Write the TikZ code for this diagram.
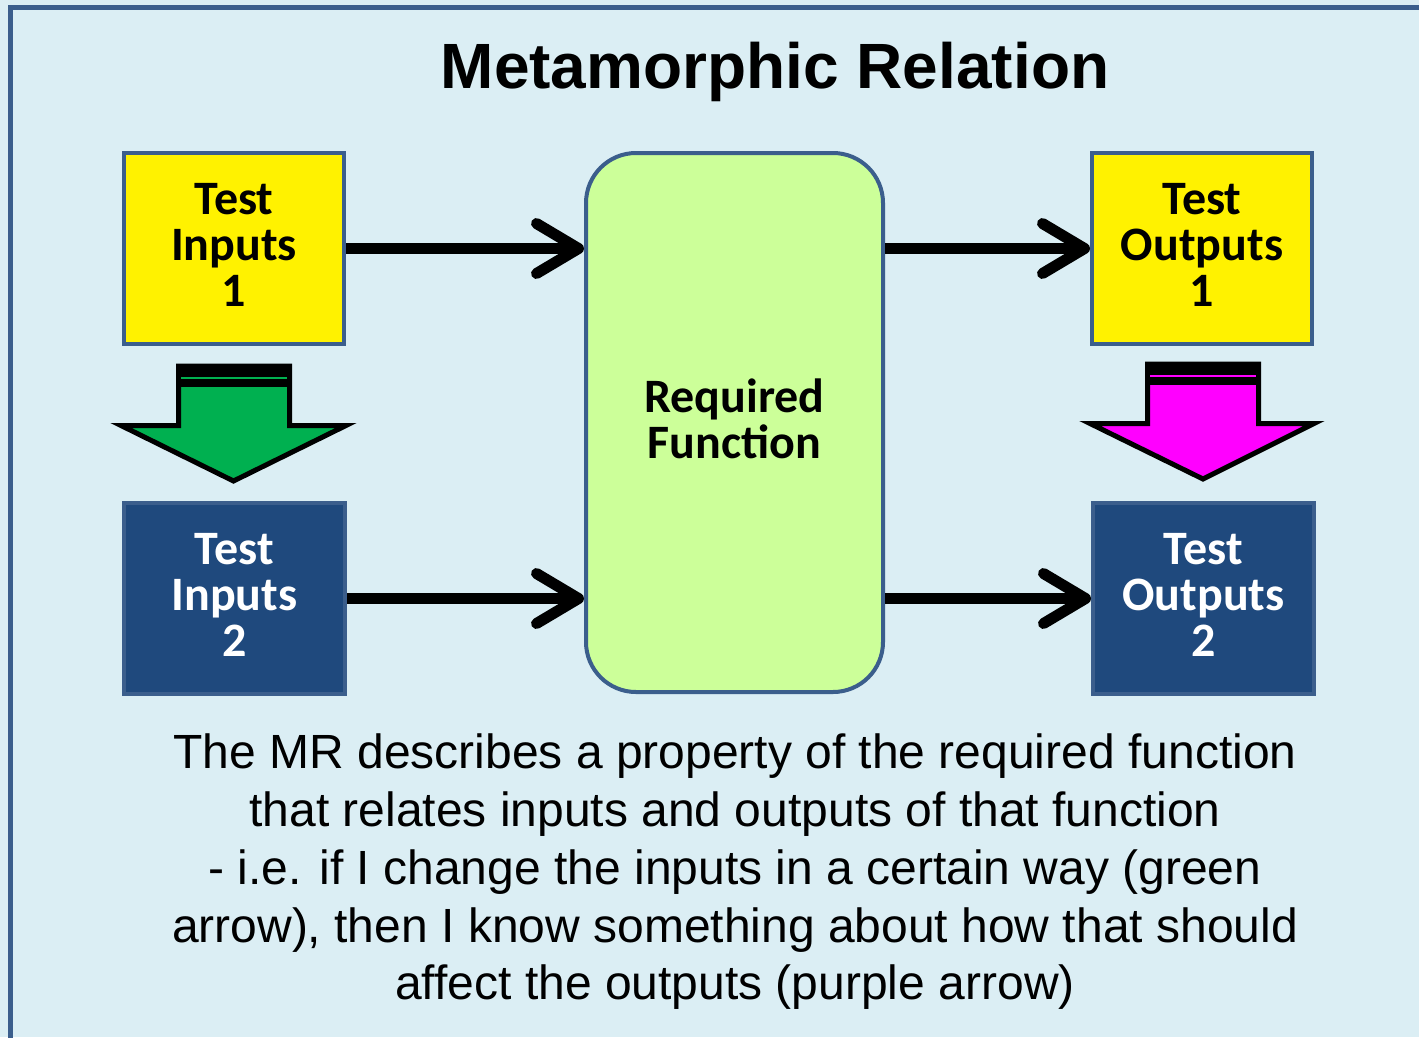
\documentclass[tikz,border=0pt]{standalone}
\usepackage{fontspec}
\setmainfont{Liberation Sans}
\newfontfamily\boxfont{Carlito}
\usetikzlibrary{arrows.meta}

\definecolor{panel}{HTML}{DBEEF4}
\definecolor{frameblue}{HTML}{3B5E8C}
\definecolor{navy}{HTML}{1F497D}
\definecolor{lime}{HTML}{CCFF99}
\definecolor{arrowgreen}{HTML}{00B050}
\definecolor{arrowpink}{HTML}{FF00FF}

\tikzset{
  boxlabel/.style={font=\boxfont\bfseries\fontsize{48}{46}\selectfont, align=center,
    text depth=8pt},
  inbox/.style={boxlabel, draw=frameblue, line width=4pt, fill=yellow, text=black,
    minimum width=220pt, minimum height=191pt, inner sep=0pt},
  darkbox/.style={boxlabel, draw=frameblue, line width=4pt, fill=navy, text=white,
    minimum width=221pt, minimum height=191pt, inner sep=0pt},
  funcbox/.style={boxlabel, draw=frameblue, line width=4pt, fill=lime, rounded corners=50pt,
    minimum width=297pt, minimum height=539pt, inner sep=0pt},
  flow/.style={line width=11pt,
    -{Straight Barb[length=42pt, width=50pt, round]}},
  blockarrow/.style={draw=black, line width=5pt, line join=miter, miter limit=10}
}

\begin{document}
\begin{tikzpicture}[x=1pt, y=-1pt]
  \useasboundingbox (0,0) rectangle (1419,1037);

  % panel with its frame running off the right and bottom edges
  \fill[panel] (0,0) rectangle (1419,1037);
  \draw[frameblue, line width=5pt] (10.5,1045) -- (10.5,7.5) -- (1430,7.5);

  % title
  \node[font=\bfseries\fontsize{64}{64}\selectfont, anchor=base] (title) at (775,88) {Metamorphic Relation};

  % boxes
  \node[inbox]   (ti1) at (234,248.5)   {Test\\Inputs\\1};
  \node[darkbox] (ti2) at (234.5,598.5) {Test\\Inputs\\2};
  \node[inbox]   (to1) at (1202,248.5)  {Test\\Outputs\\1};
  \node[darkbox] (to2) at (1203.5,598.5){Test\\Outputs\\2};
  \node[funcbox] (rf)  at (734.5,422.5) {Required\\Function};

  % connectors
  \draw[flow] (ti1.east) -- (rf.west |- ti1);
  \draw[flow] (ti2.east) -- (rf.west |- ti2);
  \draw[flow] (rf.east |- to1) -- (to1.west);
  \draw[flow] (rf.east |- to2) -- (to2.west);

  % green block arrow: inputs change
  \filldraw[blockarrow, fill=arrowgreen]
    (178.5,366) -- (289.5,366) -- (289.5,425.5) -- (346,425.5) -- (233.5,481)
    -- (121,425.5) -- (178.5,425.5) -- cycle;
  \fill[black] (176,364) rectangle (292,387);
  \fill[arrowgreen] (181,376.5) rectangle (287,378.5);

  % magenta block arrow: outputs change
  \filldraw[blockarrow, fill=arrowpink]
    (1147.5,364) -- (1258.5,364) -- (1258.5,423.5) -- (1314,423.5) -- (1203,479)
    -- (1090,423.5) -- (1147.5,423.5) -- cycle;
  \fill[black] (1145,362) rectangle (1261,385);
  \fill[arrowpink] (1150,374.5) rectangle (1256,376.5);

  % explanation
  \node[font=\fontsize{48}{57.75}\selectfont, align=center] (note) at (735,872)
    {The MR describes a property of the required function\\
     that relates inputs and outputs of that function\\
     - i.e. if I change the inputs in a certain way (green\\
     arrow), then I know something about how that should\\
     affect the outputs (purple arrow)};
\end{tikzpicture}
\end{document}
